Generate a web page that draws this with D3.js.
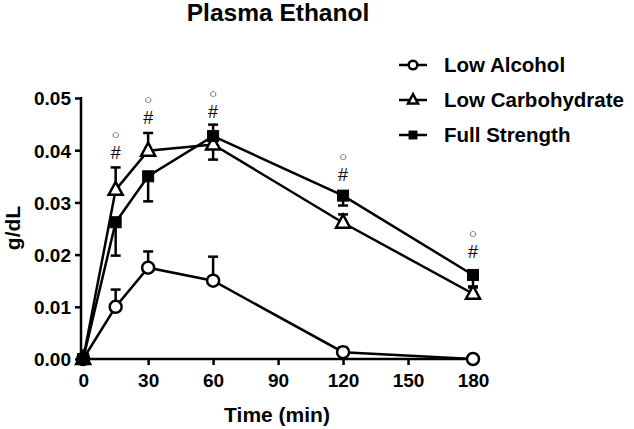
<!DOCTYPE html>
<html><head><meta charset="utf-8">
<script src="https://cdn.jsdelivr.net/npm/d3@7"></script>
<style>
body{margin:0;background:#fff;}
text{font-family:"Liberation Sans",Arial,sans-serif;fill:#000;}
</style></head>
<body><svg id="c" width="634" height="429"></svg>
<script>
const times = [0, 15, 30, 60, 120, 180];
const seriesNames = ["Low Alcohol", "Low Carbohydrate", "Full Strength"];
const lowAlcohol = [0, 0.0100, 0.0175, 0.0150, 0.0013, 0.0000];
const lowAlcoholErr = [0, 0.0033, 0.0031, 0.0046, 0.0009, 0];
const lowAlcoholErrDir = [1, 1, 1, 1, 1, 1];
const lowCarb = [0, 0.0324, 0.0399, 0.0411, 0.0261, 0.0125];
const lowCarbErr = [0, 0.0043, 0.0034, 0.0029, 0.0016, 0.0012];
const lowCarbErrDir = [1, 1, 1, -1, 1, 1];
const fullStrength = [0, 0.0262, 0.0350, 0.0427, 0.0313, 0.0161];
const fullStrengthErr = [0, 0.0064, 0.0048, 0.0022, 0.0019, 0.0022];
const fullStrengthErrDir = [-1, -1, -1, 1, -1, -1];
const xTicks = [0, 30, 60, 90, 120, 150, 180];
const yTicks = [0, 0.01, 0.02, 0.03, 0.04, 0.05];
const sigTimes = [15, 30, 60, 120, 180];
const hashY = [0.0395, 0.0463, 0.0474, 0.0354, 0.0206];

const svg = d3.select("#c");
const x = d3.scaleLinear().domain([-1, 180]).range([81, 473]);
const y = d3.scaleLinear().domain([0, 0.05]).range([359, 98]);

svg.append("text").attr("x", 278).attr("y", 21).attr("text-anchor", "middle")
  .attr("font-size", 24.5).attr("font-weight", "bold").text("Plasma Ethanol");

const yAxis = d3.axisLeft(y).tickValues(yTicks).tickFormat(d3.format(".2f")).tickSize(6).tickPadding(4).tickSizeOuter(0);
const gy = svg.append("g").attr("transform", `translate(${x(-1)},0)`).call(yAxis);
gy.select(".domain").attr("stroke-width", 2.5).attr("d", `M0,${y(0)+1}V${y(0.05)-1}`);
gy.selectAll(".tick line").attr("stroke-width", 2.5);
gy.selectAll(".tick text").attr("font-size", 19).attr("font-weight", "bold")
  .attr("font-family", "Liberation Sans, Arial, sans-serif").attr("fill", "#000").attr("dy", "0.36em");

const xAxis = d3.axisBottom(x).tickValues(xTicks).tickSize(6).tickPadding(9).tickSizeOuter(0);
const gx = svg.append("g").attr("transform", `translate(0,${y(0)})`).call(xAxis);
gx.select(".domain").attr("stroke-width", 2.5).attr("d", `M${x(-1)-1},0H${x(180)}`);
gx.selectAll(".tick line").attr("stroke-width", 2.5);
gx.selectAll(".tick text").attr("font-size", 19).attr("font-weight", "bold")
  .attr("font-family", "Liberation Sans, Arial, sans-serif").attr("fill", "#000");

svg.append("text").attr("x", 277).attr("y", 422).attr("text-anchor", "middle")
  .attr("font-size", 21).attr("font-weight", "bold").text("Time (min)");
svg.append("text").attr("transform", "translate(20,228) rotate(-90)").attr("text-anchor", "middle")
  .attr("font-size", 21).attr("font-weight", "bold").text("g/dL");

const series = [
  {name: seriesNames[0], v: lowAlcohol, e: lowAlcoholErr, d: lowAlcoholErrDir, sym: "circle"},
  {name: seriesNames[1], v: lowCarb, e: lowCarbErr, d: lowCarbErrDir, sym: "triangle"},
  {name: seriesNames[2], v: fullStrength, e: fullStrengthErr, d: fullStrengthErrDir, sym: "square"}
];

const line = d3.line().x(d => x(d.t)).y(d => y(d.v));
series.forEach(s => {
  const pts = times.map((t, i) => ({t, v: s.v[i], e: s.e[i], d: s.d[i]}));
  svg.append("path").datum(pts).attr("d", line).attr("fill", "none")
    .attr("stroke", "#000").attr("stroke-width", 2.5);
  pts.filter(p => p.e > 0).forEach(p => {
    const y0 = y(p.v), y1 = y(p.v + p.d * p.e);
    svg.append("line").attr("x1", x(p.t)).attr("x2", x(p.t)).attr("y1", y0).attr("y2", y1)
      .attr("stroke", "#000").attr("stroke-width", 2.5);
    svg.append("line").attr("x1", x(p.t) - 5).attr("x2", x(p.t) + 5).attr("y1", y1).attr("y2", y1)
      .attr("stroke", "#000").attr("stroke-width", 2.5);
  });
});

function drawSym(g, sym, cx, cy, scale) {
  if (sym === "circle") {
    g.append("circle").attr("cx", cx).attr("cy", cy).attr("r", 6 * scale)
      .attr("fill", "#fff").attr("stroke", "#000").attr("stroke-width", 2.5);
  } else if (sym === "triangle") {
    const h = 13 * scale, w = 14 * scale;
    g.append("path").attr("d", `M${cx},${cy - h * 0.62}L${cx + w / 2},${cy + h * 0.38}L${cx - w / 2},${cy + h * 0.38}Z`)
      .attr("fill", "#fff").attr("stroke", "#000").attr("stroke-width", 2.5).attr("stroke-linejoin", "miter");
  } else {
    const s = 11 * scale;
    g.append("rect").attr("x", cx - s / 2).attr("y", cy - s / 2).attr("width", s).attr("height", s)
      .attr("fill", "#000").attr("stroke", "#000").attr("stroke-width", 1);
  }
}

series.forEach(s => {
  times.forEach((t, i) => drawSym(svg, s.sym, x(t), y(s.v[i]), 1));
});

sigTimes.forEach((t, i) => {
  const yy = y(hashY[i]);
  svg.append("text").attr("x", x(t)).attr("y", yy).attr("dy", "0.36em").attr("text-anchor", "middle")
    .attr("font-size", 18).attr("fill", "#000").text("#");
  svg.append("text").attr("x", x(t)).attr("y", yy - 18).attr("dy", "0.36em").attr("text-anchor", "middle")
    .attr("font-size", 13).attr("fill", "#000").text("○");
});

const ly = [65, 100, 135];
series.forEach((s, i) => {
  const g = svg.append("g");
  g.append("line").attr("x1", 399).attr("x2", 427).attr("y1", ly[i]).attr("y2", ly[i])
    .attr("stroke", "#000").attr("stroke-width", 2.5);
  drawSym(g, s.sym, 413, ly[i], 0.72);
  g.append("text").attr("x", 444).attr("y", ly[i]).attr("dy", "0.36em")
    .attr("font-size", 20.5).attr("font-weight", "bold").text(s.name);
});
</script></body></html>
